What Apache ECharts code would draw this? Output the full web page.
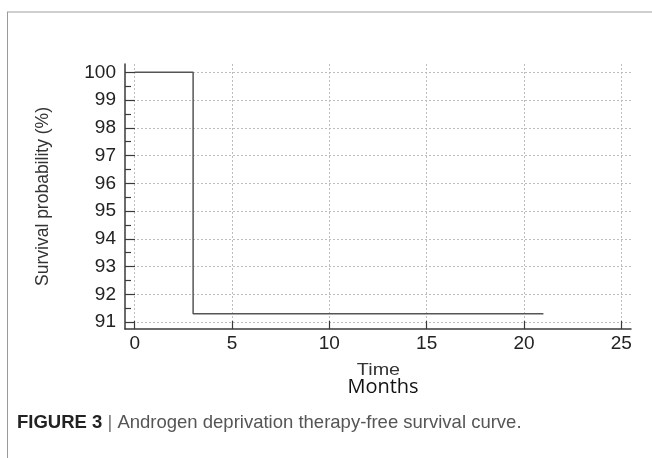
<!DOCTYPE html>
<html><head><meta charset="utf-8">
<script src="https://cdn.jsdelivr.net/npm/echarts@6/dist/echarts.min.js"></script>
<style>html,body{margin:0;padding:0;background:#fff;}#c{width:652px;height:458px;}</style>
</head><body><div id="c"></div>
<script>
const timePoints = [0, 3, 21];
const survival = [100, 91.3, 91.3];
const xTicks = [0, 5, 10, 15, 20, 25];
const yTicks = [91, 92, 93, 94, 95, 96, 97, 98, 99, 100];
const yMinorTicks = [91.5, 92.5, 93.5, 94.5, 95.5, 96.5, 97.5, 98.5, 99.5];
const xTitle = 'Time';
const xUnit = 'Months';
const yTitle = 'Survival probability (%)';
const captionBold = 'FIGURE 3';
const captionText = 'Androgen deprivation therapy-free survival curve.';

const chart = echarts.init(document.getElementById('c'), null, {renderer: 'canvas'});
const axisColor = '#3a3a3a';
const gridStyle = {show: true, lineStyle: {color: '#bdbdbd', type: [2, 2], width: 1}};
chart.setOption({
  animation: false,
  grid: {left: 125, right: 21, top: 64, bottom: 129},
  xAxis: [{
    type: 'value', min: -0.5, max: 25.5,
    axisLine: {show: true, onZero: false, lineStyle: {color: axisColor, width: 1.5}},
    axisTick: {show: true, inside: true, length: 8, customValues: xTicks, lineStyle: {color: axisColor, width: 1.2}},
    axisLabel: {customValues: xTicks, color: '#222', fontSize: 19, fontFamily: 'Liberation Sans, Arial', margin: 5},
    splitLine: gridStyle
  }],
  yAxis: [{
    type: 'value', min: 90.75, max: 100.3,
    axisLine: {show: true, onZero: false, lineStyle: {color: axisColor, width: 1.5}},
    axisTick: {show: true, inside: true, length: 10, customValues: yTicks, lineStyle: {color: axisColor, width: 1.2}},
    axisLabel: {customValues: yTicks, color: '#222', fontSize: 19, fontFamily: 'Liberation Sans, Arial', margin: 9},
    splitLine: gridStyle,
    name: yTitle, nameLocation: 'middle', nameGap: 73, nameRotate: 90,
    nameTextStyle: {color: '#333', fontSize: 17.5, fontFamily: 'Liberation Sans, Arial'}
  }, {
    type: 'value', min: 90.75, max: 100.3, position: 'left',
    axisLine: {show: false, onZero: false},
    axisTick: {show: true, inside: true, length: 6, customValues: yMinorTicks, lineStyle: {color: axisColor, width: 1.2}},
    axisLabel: {show: false},
    splitLine: {show: false}
  }],
  series: [{
    type: 'line', step: 'end', showSymbol: false, symbol: 'none',
    data: timePoints.map((t, i) => [t, survival[i]]),
    lineStyle: {color: '#555', width: 1.5}
  }],
  graphic: [
    {type: 'line', shape: {x1: 7, y1: 12, x2: 652, y2: 12}, style: {stroke: '#cfcfcf', lineWidth: 2}},
    {type: 'line', shape: {x1: 7.5, y1: 12, x2: 7.5, y2: 458}, style: {stroke: '#9a9a9a', lineWidth: 1}},
    {type: 'text', x: 378.5, y: 370, scaleX: 1.2, style: {text: xTitle, fill: '#333', font: '16.5px "Liberation Sans", Arial', align: 'center', verticalAlign: 'middle'}},
    {type: 'text', x: 383, y: 387, style: {text: xUnit, fill: '#111', font: '20px "Open Sans", "DejaVu Sans", sans-serif', align: 'center', verticalAlign: 'middle'}},
    {type: 'text', x: 17, y: 423, style: {
      text: '{b|' + captionBold + '}{s| | }{n|' + captionText + '}',
      verticalAlign: 'middle',
      rich: {
        b: {font: 'bold 18.5px "Liberation Sans Narrow", "Liberation Sans", Arial', fill: '#222'},
        s: {font: '18.5px "Liberation Sans", Arial', fill: '#777'},
        n: {font: '18.5px "Liberation Sans Narrow", "Liberation Sans", Arial', fill: '#555'}
      }
    }}
  ]
});
</script></body></html>
